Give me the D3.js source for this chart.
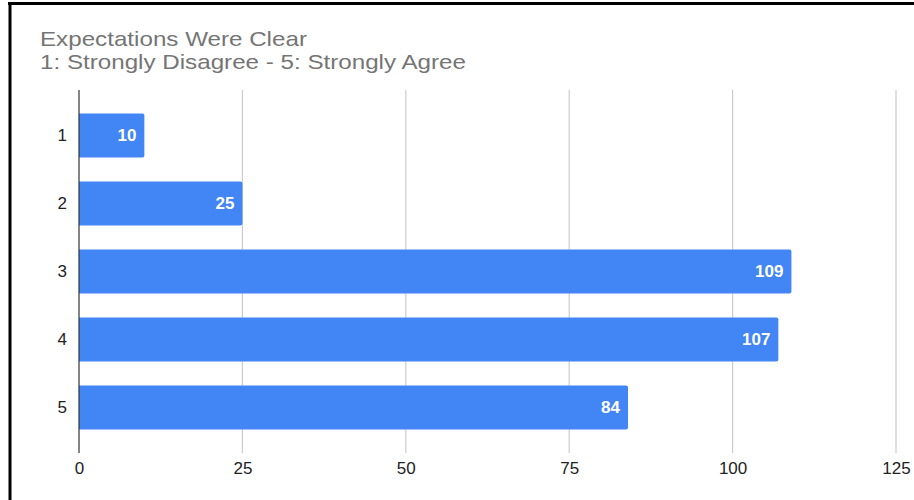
<!DOCTYPE html>
<html>
<head>
<meta charset="utf-8">
<script src="https://cdn.jsdelivr.net/npm/d3@7"></script>
<style>
	body { margin: 0; background: #fff; }
	svg { display: block; font-family: "Liberation Sans", Arial, sans-serif; }
</style>
</head>
<body>
<script>
// chart data
let categories = ["1", "2", "3", "4", "5"];
let counts = [10, 25, 109, 107, 84];
let xTicks = [0, 25, 50, 75, 100, 125];
let titleLines = ["Expectations Were Clear", "1: Strongly Disagree - 5: Strongly Agree"];

let width = 914;
let height = 500;
let plotLeft = 79, plotRight = 896, plotTop = 90, plotBottom = 453;

let svg = d3.select("body").append("svg").attr("width", width).attr("height", height);

// frame of the screenshot
svg.append("rect").attr("x", 0).attr("y", 0).attr("width", width).attr("height", height).attr("fill", "#fff");
svg.append("line").attr("x1", 8).attr("x2", width).attr("y1", 3.5).attr("y2", 3.5)
	.attr("stroke", "#000").attr("stroke-width", 3);
svg.append("line").attr("x1", 10).attr("x2", 10).attr("y1", 2).attr("y2", height)
	.attr("stroke", "#000").attr("stroke-width", 3);

let xScale = d3.scaleLinear().domain([0, 125]).range([plotLeft, plotRight]);
let yScale = d3.scaleBand().domain(categories).range([plotTop, plotBottom])
				.paddingInner(0.353).paddingOuter(0.346);

// title (the screenshot is a bit wider than the font)
svg.append("g")
	.attr("transform", "translate(40,0) scale(1.18,1)")
	.selectAll("text").data(titleLines).enter()
	.append("text")
	.attr("x", 0)
	.attr("y", (d, i) => 46 + i * 23)
	.attr("fill", "#757575")
	.attr("font-size", "20.5px")
	.text(d => d);

// gridlines
svg.append("g")
	.selectAll("line").data(xTicks.slice(1)).enter()
	.append("line")
	.attr("x1", d => xScale(d)).attr("x2", d => xScale(d))
	.attr("y1", plotTop).attr("y2", plotBottom)
	.attr("stroke", "#cccccc").attr("stroke-width", 1.2);

// bars
svg.append("g")
	.selectAll("path").data(counts).enter()
	.append("path")
	.attr("d", (d, i) => {
		let x0 = xScale(0), x1 = xScale(d);
		let y0 = yScale(categories[i]), h = yScale.bandwidth(), r = 2;
		return `M${x0},${y0}H${x1 - r}Q${x1},${y0} ${x1},${y0 + r}V${y0 + h - r}Q${x1},${y0 + h} ${x1 - r},${y0 + h}H${x0}Z`;
	})
	.attr("fill", "#4285f4");

// bar labels
svg.append("g")
	.selectAll("text").data(counts).enter()
	.append("text")
	.attr("x", d => xScale(d) - 8)
	.attr("y", (d, i) => yScale(categories[i]) + yScale.bandwidth() / 2)
	.attr("dy", "0.35em")
	.attr("text-anchor", "end")
	.attr("fill", "#fff")
	.attr("font-size", "17px")
	.attr("font-weight", "bold")
	.text(d => d);

// axes
let xAxis = d3.axisBottom(xScale).tickValues(xTicks).tickSize(0).tickPadding(9);
let gx = svg.append("g").attr("transform", `translate(0,${plotBottom})`).call(xAxis);
gx.select(".domain").remove();
gx.selectAll("text").attr("font-size", "17px").attr("fill", "#222").attr("font-family", "Liberation Sans, Arial, sans-serif");

let yAxis = d3.axisLeft(yScale).tickSize(0).tickPadding(12);
let gy = svg.append("g").attr("transform", `translate(${plotLeft},0)`).call(yAxis);
gy.select(".domain").remove();
gy.selectAll("text").attr("font-size", "17px").attr("fill", "#222").attr("font-family", "Liberation Sans, Arial, sans-serif");

svg.append("line")
	.attr("x1", plotLeft).attr("x2", plotLeft).attr("y1", plotTop).attr("y2", plotBottom)
	.attr("stroke", "#333").attr("stroke-width", 1.2);
</script>
</body>
</html>
